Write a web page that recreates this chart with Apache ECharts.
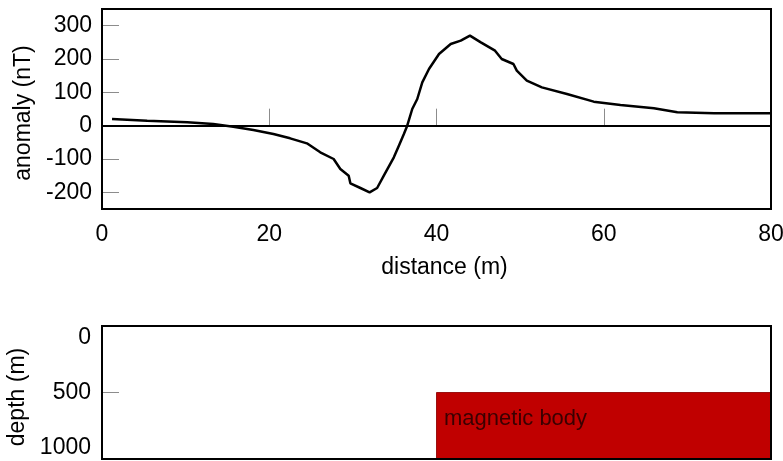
<!DOCTYPE html>
<html>
<head>
<meta charset="utf-8">
<style>
  html, body { margin: 0; padding: 0; background: #fff; }
  #container { width: 783px; height: 461px; }
</style>
<script src="https://cdn.jsdelivr.net/npm/echarts@6/dist/echarts.min.js"></script>
</head>
<body>
<div id="container"></div>
<script>
// profile readings (distance in m, anomaly in nT)
var distance = [1.2, 5.4, 10.2, 13.3, 15.7, 18.1, 20.5, 22.5, 24.5, 26.1, 27.7, 28.5, 29.5, 29.7,
  30.9, 32.0, 32.9, 33.7, 34.9, 35.5, 36.1, 36.5, 37.1, 37.7, 38.3, 39.1, 40.3, 41.7, 42.9, 44.0,
  45.3, 47.0, 47.8, 49.2, 49.6, 50.8, 52.6, 55.6, 58.8, 62.0, 66.0, 68.8, 73.2, 80];
var anomaly = [20, 15, 10, 5, -3, -13, -25, -38, -53, -80, -100, -130, -150, -173,
  -187, -200, -187, -150, -95, -60, -25, 0, 50, 80, 130, 170, 215, 245, 255, 270,
  250, 225, 200, 185, 165, 135, 115, 95, 72, 62, 52, 40, 37, 37];

// tick labels
var anomalyTicks = [-200, -100, 0, 100, 200, 300];
var distanceTicks = [0, 20, 40, 60, 80];
var depthLabels = [0, 500, 1000];
var depthTicks = [500];

// magnetic body: [x start, top depth, x end, bottom depth]
var bodyStart = 40, bodyEnd = 80, bodyTop = 500, bodyBottom = 1000;
var bodyName = 'magnetic body';

var font = 'Liberation Sans, Arial, sans-serif';
var tickStyle = { show: true, inside: true, length: 17, lineStyle: { color: '#8c8c8c', width: 1 } };
var plain = function (v) { return String(v); };

var dom = document.getElementById('container');
var myChart = echarts.init(dom, null, { renderer: 'canvas' });

var profile = distance.map((d, i) => [d, anomaly[i]]);

var option = {
  animation: false,
  backgroundColor: '#fff',
  textStyle: { fontFamily: font },
  grid: [
    { left: 102, right: 12, top: 9, height: 200, show: true, z: 5, outerBoundsMode: 'none',
      containLabel: false, borderColor: '#000', borderWidth: 2, backgroundColor: 'transparent' },
    { left: 102, right: 12, top: 326, height: 133, show: true, z: 5, outerBoundsMode: 'none',
      containLabel: false, borderColor: '#000', borderWidth: 2, backgroundColor: 'transparent' }
  ],
  xAxis: [
    {
      type: 'value',
      min: 0,
      max: 80,
      interval: 20,
      name: 'distance (m)',
      nameLocation: 'middle',
      nameGap: 47,
      nameTextStyle: { fontSize: 23, color: '#000', fontFamily: font, padding: [0, 0, 0, 16] },
      axisLine: { show: true, lineStyle: { color: '#000', width: 2 } },
      axisTick: Object.assign({}, tickStyle, { customValues: distanceTicks }),
      axisLabel: { fontSize: 23, color: '#000', margin: 14, fontFamily: font,
        customValues: distanceTicks, formatter: plain },
      splitLine: { show: false }
    },
    {
      gridIndex: 1,
      type: 'value',
      min: 0,
      max: 80,
      show: false
    }
  ],
  yAxis: [
    {
      type: 'value',
      min: -250,
      max: 350,
      name: 'anomaly (nT)',
      nameLocation: 'middle',
      nameGap: 65,
      nameTextStyle: { fontSize: 23, color: '#000', fontFamily: font, padding: [0, 8, 0, 0] },
      axisLine: { show: true, lineStyle: { color: '#000', width: 2 } },
      axisTick: Object.assign({}, tickStyle, { customValues: anomalyTicks }),
      axisLabel: { fontSize: 23, color: '#000', margin: 10, fontFamily: font,
        customValues: anomalyTicks, formatter: plain },
      splitLine: { show: false }
    },
    {
      gridIndex: 1,
      type: 'value',
      inverse: true,
      min: 0,
      max: 1000,
      name: 'depth (m)',
      nameLocation: 'middle',
      nameGap: 65,
      nameTextStyle: { fontSize: 23, color: '#000', fontFamily: font, padding: [0, 9, 0, 0] },
      axisLine: { show: true, lineStyle: { color: '#000', width: 2 } },
      axisTick: Object.assign({}, tickStyle, { customValues: depthTicks }),
      axisLabel: {
        fontSize: 23, color: '#000', margin: 11, fontFamily: font,
        customValues: depthLabels,
        formatter: plain,
        verticalAlignMinLabel: 'top',
        verticalAlignMaxLabel: 'bottom'
      },
      splitLine: { show: false }
    }
  ],
  series: [
    {
      name: 'anomaly',
      type: 'line',
      data: profile,
      symbol: 'none',
      lineStyle: { color: '#000', width: 2.5 },
      markLine: {
        silent: true,
        symbol: 'none',
        label: { show: false },
        lineStyle: { color: '#000', width: 2, type: 'solid' },
        data: [{ yAxis: 0 }]
      }
    },
    {
      name: bodyName,
      type: 'custom',
      xAxisIndex: 1,
      yAxisIndex: 1,
      encode: { x: [0, 2], y: [1, 3] },
      data: [[bodyStart, bodyTop, bodyEnd, bodyBottom]],
      renderItem: function (params, api) {
        var p1 = api.coord([api.value(0), api.value(1)]);
        var p2 = api.coord([api.value(2), api.value(3)]);
        return {
          type: 'rect',
          shape: { x: p1[0], y: p1[1], width: p2[0] - p1[0], height: p2[1] - p1[1] },
          style: { fill: '#c00000', stroke: '#9a1010', lineWidth: 1 },
          textContent: {
            style: { text: bodyName, fill: '#3a0000', fontSize: 22, fontFamily: font }
          },
          textConfig: { position: 'insideLeft', distance: 8, offset: [0, -7] }
        };
      }
    }
  ]
};

myChart.setOption(option);
window.onresize = function() {
  myChart.resize();
};
</script>
</body>
</html>
